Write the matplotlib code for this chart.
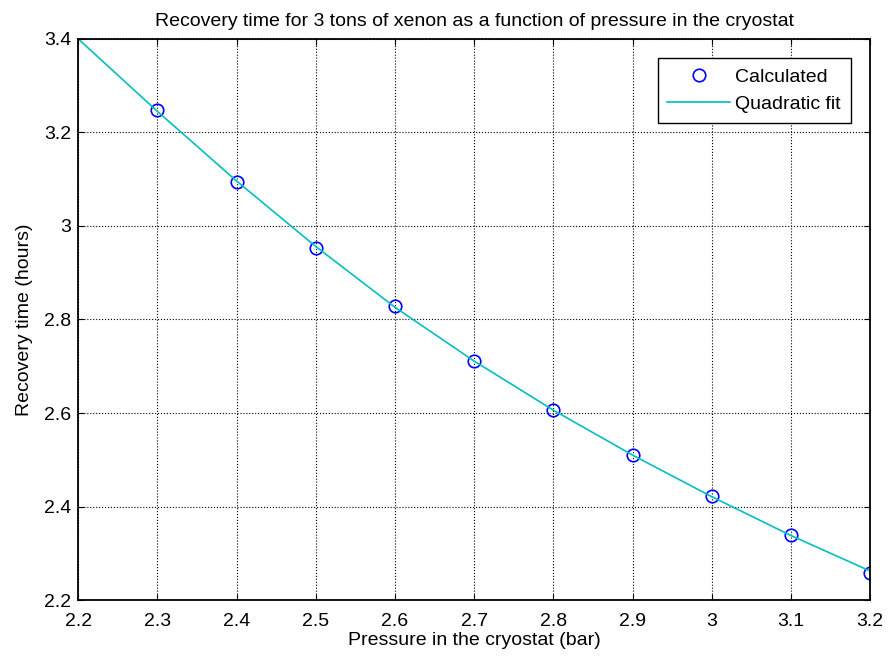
import numpy as np
import matplotlib.pyplot as plt

plt.rcParams['font.family'] = ['Liberation Sans', 'DejaVu Sans']

# calculated recovery time (hours) vs pressure (bar)
pressure = [2.3, 2.4, 2.5, 2.6, 2.7, 2.8, 2.9, 3.0, 3.1, 3.2]
recovery = [3.248, 3.093, 2.953, 2.828, 2.712, 2.607, 2.511, 2.423, 2.339, 2.259]

# quadratic fit
fit_p = [2.2, 2.3, 2.4, 2.5, 2.6, 2.7, 2.8, 2.9, 3.0, 3.1, 3.2]
fit_t = [3.400, 3.245, 3.096, 2.956, 2.826, 2.711, 2.606, 2.510, 2.421, 2.338, 2.262]

xticks = [2.2, 2.3, 2.4, 2.5, 2.6, 2.7, 2.8, 2.9, 3.0, 3.1, 3.2]
xlabels = ['2.2', '2.3', '2.4', '2.5', '2.6', '2.7', '2.8', '2.9', '3', '3.1', '3.2']
yticks = [2.2, 2.4, 2.6, 2.8, 3.0, 3.2, 3.4]
ylabels = ['2.2', '2.4', '2.6', '2.8', '3', '3.2', '3.4']

fig = plt.figure(figsize=(8.88, 6.58), dpi=100)
ax = fig.add_axes([0.088, 0.088, 0.892, 0.853])

ax.plot(pressure, recovery, 'o', mfc='none', mec='#0000ff', ms=9, mew=1.2, label='Calculated')
ax.plot(fit_p, fit_t, '-', color='#00bfbf', lw=1.2, label='Quadratic fit')

ax.set_xlim(2.2, 3.2)
ax.set_ylim(2.2, 3.4)
ax.set_xticks(xticks)
ax.set_xticklabels(xlabels)
ax.set_yticks(yticks)
ax.set_yticklabels(ylabels)
ax.tick_params(direction='in', labelsize=14, length=4, top=True, right=True)
ax.tick_params(axis='y', pad=5)
ax.tick_params(axis='x', pad=9)
ax.grid(True, color='black', linestyle=':', linewidth=0.8)
for s in ax.spines.values():
    s.set_linewidth(1.3)

ax.set_xlabel('Pressure in the cryostat (bar)', fontsize=14, labelpad=2)
ax.set_ylabel('Recovery time (hours)', fontsize=14, labelpad=8)
ax.set_title('Recovery time for 3 tons of xenon as a function of pressure in the cryostat', fontsize=14, pad=9)

leg = ax.legend(loc='upper right', fontsize=14, fancybox=False, framealpha=1,
                edgecolor='black', borderaxespad=1.0, handlelength=3.2,
                handletextpad=0.3, borderpad=0.5)
leg.get_frame().set_linewidth(1.0)

fig.savefig('out.png', dpi=100)
